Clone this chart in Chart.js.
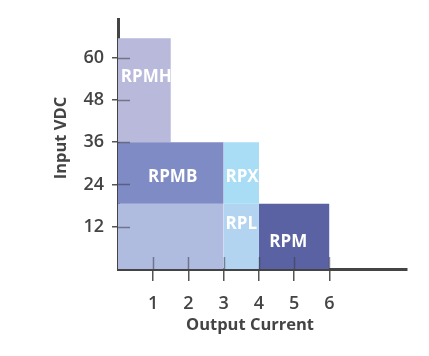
<!DOCTYPE html>
<html>
<head>
<meta charset="utf-8">
<script src="https://cdn.jsdelivr.net/npm/chart.js@4.4.0/dist/chart.umd.min.js"></script>
<style>
    html, body { margin: 0; padding: 0; background: #fff; }
    canvas { display: block; }
</style>
</head>
<body>
<canvas id="range-chart" width="429" height="356"></canvas>
<script>
'use strict';

// product ranges: output current (A) x input voltage (VDC)
const regionNames = ['RPMH', '', 'RPL', 'RPMB', 'RPX', 'RPM'];
const currentFrom = [0, 0, 3, 0, 3, 4];
const currentTo = [1.5, 3, 4, 3, 4, 6];
const voltageFrom = [36, 0, 0, 18.5, 18.5, 0];
const voltageTo = [65.5, 18.5, 18.5, 36, 36, 18.5];
const labelCurrent = [0.8, 0, 3.5, 1.55, 3.52, 4.83];
const labelVoltage = [54.5, 0, 12.6, 26, 26, 7.5];
const currentTicks = [1, 2, 3, 4, 5, 6];
const voltageTicks = [12, 24, 36, 48, 60];
const currentTitle = 'Output Current';
const voltageTitle = 'Input VDC';

const regionColors = ['#b9b9db', '#afbbdf', '#b3d4f0', '#7f8bc5', '#a9dcf5', '#5a62a3'];
const axisColor = '#444';
const fontFamily = '"Open Sans", "DejaVu Sans", sans-serif';

const datasets = regionNames.map((name, i) => ({
    label: name,
    data: [
        {x: currentFrom[i], y: voltageTo[i]},
        {x: currentTo[i], y: voltageTo[i]},
    ],
    fill: {value: voltageFrom[i]},
    backgroundColor: regionColors[i],
    borderColor: 'rgba(0,0,0,0)',
    borderWidth: 0,
    pointRadius: 0,
    tension: 0,
    order: regionNames.length - i,
}));

const regionLabels = {
    id: 'regionLabels',
    afterDatasetsDraw(chart) {
        const {ctx, chartArea, scales: {x, y}} = chart;
        ctx.save();
        // short tick marks inside the plot
        ctx.strokeStyle = 'rgba(60,60,70,0.55)';
        ctx.lineWidth = 1.5;
        for (const v of voltageTicks) {
            const py = Math.round(y.getPixelForValue(v)) + 0.5;
            ctx.beginPath();
            ctx.moveTo(chartArea.left, py);
            ctx.lineTo(chartArea.left + 12, py);
            ctx.stroke();
        }
        for (const v of currentTicks) {
            const px = Math.round(x.getPixelForValue(v)) + 0.5;
            ctx.beginPath();
            ctx.moveTo(px, chartArea.bottom);
            ctx.lineTo(px, chartArea.bottom - 12);
            ctx.stroke();
        }
        ctx.fillStyle = '#fff';
        ctx.font = '700 17px ' + fontFamily;
        ctx.textAlign = 'center';
        ctx.textBaseline = 'middle';
        regionNames.forEach((name, i) => {
            if (!name) return;
            ctx.fillText(name, x.getPixelForValue(labelCurrent[i]), y.getPixelForValue(labelVoltage[i]));
        });
        ctx.restore();
    },
    afterDraw(chart) {
        // axis titles sit a little off the plot centre in the original
        const {ctx, chartArea} = chart;
        ctx.save();
        ctx.fillStyle = axisColor;
        ctx.font = '700 16.5px ' + fontFamily;
        ctx.textAlign = 'center';
        ctx.textBaseline = 'middle';
        ctx.fillText(currentTitle, chartArea.left + 132, 325);
        ctx.translate(61, chartArea.top + 119);
        ctx.rotate(-Math.PI / 2);
        ctx.fillText(voltageTitle, 0, 0);
        ctx.restore();
    },
};

const rangeChartElement = document.getElementById('range-chart');
const rangeChart = new Chart(rangeChartElement, {
    type: 'line',
    data: {
        datasets: datasets,
    },
    options: {
        responsive: false,
        animation: false,
        devicePixelRatio: 1,
        layout: {
            padding: {top: 19, right: 22, left: 0, bottom: 0},
        },
        scales: {
            x: {
                type: 'linear',
                min: 0,
                max: 8.2,
                afterBuildTicks: scale => {
                    scale.ticks = currentTicks.map(v => ({value: v}));
                },
                afterFit: scale => {
                    scale.height = 87;
                },
                grid: {
                    drawOnChartArea: false,
                    tickLength: 12,
                    color: '#555',
                    lineWidth: 1.5,
                },
                border: {
                    color: axisColor,
                    width: 3,
                },
                ticks: {
                    padding: 12,
                    color: axisColor,
                    font: {family: fontFamily, size: 18, weight: '600'},
                },
            },
            y: {
                type: 'linear',
                min: 0,
                max: 71,
                afterBuildTicks: scale => {
                    scale.ticks = voltageTicks.map(v => ({value: v}));
                },
                afterFit: scale => {
                    scale.width = 118;
                },
                grid: {
                    drawOnChartArea: false,
                    tickLength: 6,
                    color: '#555',
                    lineWidth: 1.5,
                },
                border: {
                    color: axisColor,
                    width: 3,
                },
                ticks: {
                    padding: 8,
                    color: axisColor,
                    font: {family: fontFamily, size: 18, weight: '600'},
                },
            },
        },
        plugins: {
            legend: {display: false},
            tooltip: {enabled: false},
        },
    },
    plugins: [regionLabels],
});
</script>
</body>
</html>
